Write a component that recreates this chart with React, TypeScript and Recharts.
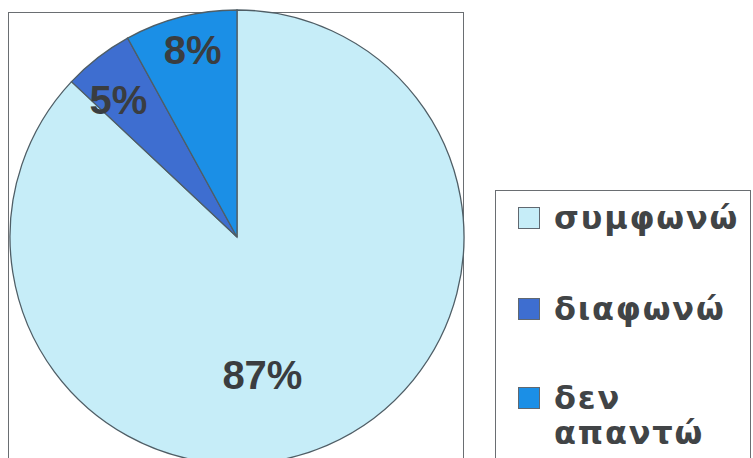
import React from "react";
import { PieChart, Pie, Cell, Legend } from "recharts";

const categories = ["συμφωνώ", "διαφωνώ", "δεν απαντώ"];
const values = [87, 5, 8];
const colors = ["#c6edf8", "#3e6ed0", "#1b8fe6"];

const data = categories.map((name, i) => ({ name, value: values[i] }));

// label placement relative to each slice (fraction of radius, angle nudge in degrees)
const LABEL_RADIUS = [0.62, 0.8, 0.845];
const LABEL_SHIFT = [-13, 3, -1];

const RAD = Math.PI / 180;

const renderLabel = (props: any) => {
  const { cx, cy, midAngle, outerRadius, percent, index } = props;
  const r = outerRadius * LABEL_RADIUS[index];
  const ang = midAngle + LABEL_SHIFT[index];
  const x = cx + r * Math.cos(-ang * RAD);
  const y = cy + r * Math.sin(-ang * RAD);
  return (
    <text
      x={x}
      y={y}
      textAnchor="middle"
      dominantBaseline="central"
      fill="#3a3d40"
      fontFamily="'Liberation Sans', Arial, sans-serif"
      fontWeight="bold"
      fontSize={40}
    >
      {`${Math.round(percent * 100)}%`}
    </text>
  );
};

const renderLegend = (props: any) => {
  const payload = [...(props.payload || [])].sort(
    (a: any, b: any) => categories.indexOf(a.value) - categories.indexOf(b.value)
  );
  const tops = [17, 108, 197];
  return (
    <div style={{ position: "relative", width: 258, height: 270 }}>
      {payload.map((entry: any, i: number) => {
        const words = String(entry.value).split(" ");
        const twoLines = words.length > 1;
        return (
          <div
            key={i}
            style={{ position: "absolute", left: 23, top: tops[i], display: "flex", alignItems: "flex-start" }}
          >
            <div
              style={{
                width: 20,
                height: 20,
                background: entry.color,
                border: "1px solid #606870",
                flex: "none",
              }}
            />
            <div
              style={{
                marginLeft: 14,
                marginTop: -6,
                fontFamily: "'DejaVu Sans', Verdana, sans-serif",
                fontWeight: "bold",
                fontSize: 32,
                letterSpacing: 1.8,
                lineHeight: "35px",
                color: "#414446",
                textAlign: "left",
                whiteSpace: "nowrap",
              }}
            >
              {twoLines ? words.map((w, j) => <div key={j}>{w}</div>) : entry.value}
            </div>
          </div>
        );
      })}
    </div>
  );
};

export default function App() {
  return (
    <div
      style={{
        position: "absolute",
        left: 0,
        top: 0,
        width: 753,
        height: 458,
        background: "#ffffff",
        overflow: "hidden",
      }}
    >
      <div
        style={{
          position: "absolute",
          left: 8,
          top: 12,
          width: 456,
          height: 460,
          border: "1.5px solid #6a6e72",
          boxSizing: "border-box",
        }}
      />
      <div
        style={{
          position: "absolute",
          left: 495,
          top: 190,
          width: 256,
          height: 280,
          border: "1.5px solid #6a6e72",
          boxSizing: "border-box",
        }}
      />
      <div style={{ position: "absolute", left: 0, top: 0 }}>
        <PieChart width={753} height={458} margin={{ top: 0, right: 0, bottom: 0, left: 0 }}>
          <Pie
            data={data}
            dataKey="value"
            nameKey="name"
            cx={237}
            cy={237}
            outerRadius={227}
            startAngle={90}
            endAngle={-270}
            stroke="#4f5e66"
            strokeWidth={1.3}
            label={renderLabel}
            labelLine={false}
            isAnimationActive={false}
          >
            {data.map((d, i) => (
              <Cell key={d.name} fill={colors[i]} />
            ))}
          </Pie>
          <Legend
            layout="vertical"
            align="right"
            verticalAlign="top"
            content={renderLegend}
            wrapperStyle={{ position: "absolute", left: 495, top: 190, width: 258, height: 270 }}
          />
        </PieChart>
      </div>
    </div>
  );
}
